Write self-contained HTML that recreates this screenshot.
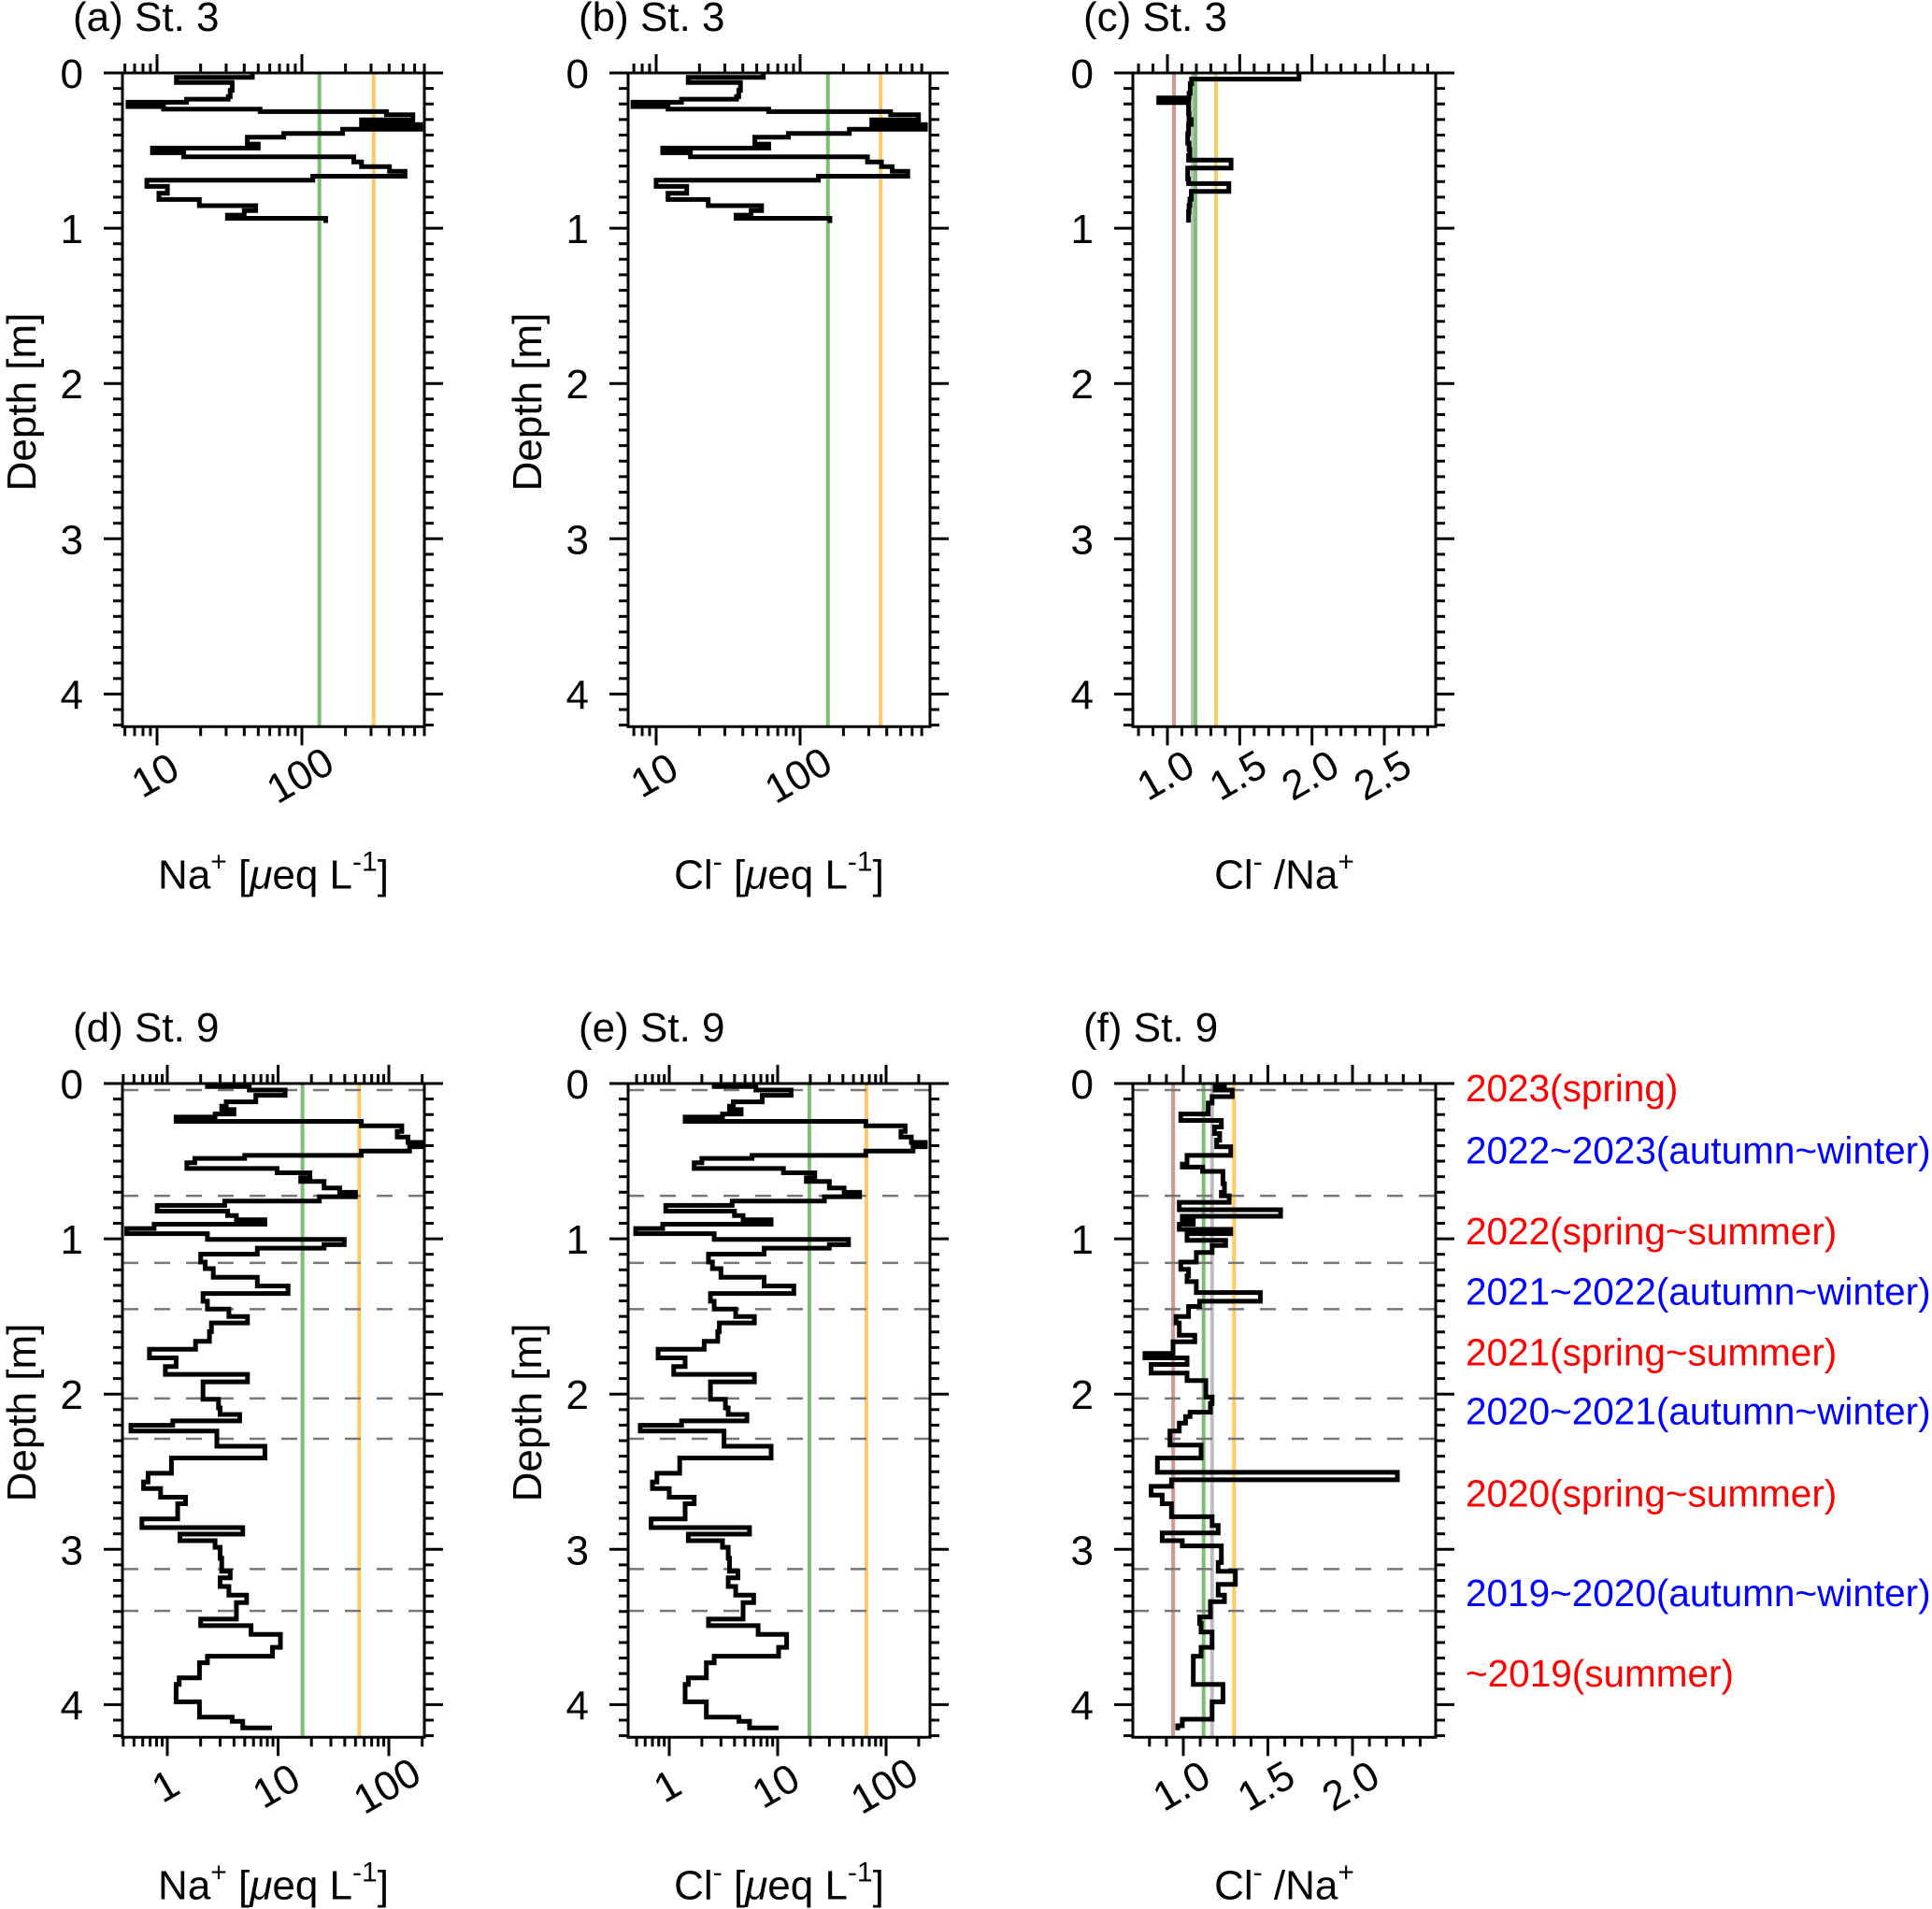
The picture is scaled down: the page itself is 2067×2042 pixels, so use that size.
<!DOCTYPE html>
<html><head><meta charset="utf-8"><style>
html,body{margin:0;padding:0;background:#fff;}
svg{display:block;font-family:"Liberation Sans",sans-serif;}
</style></head><body>
<svg id="fig" width="2067" height="2042" viewBox="0 0 2067 2042" xmlns="http://www.w3.org/2000/svg"></svg>
<script>
// ---- data ----
const depthA=[0,.028,.062,.112,.153,.169,.189,.217,.233,.249,.269,.303,.333,.363,.39,.414,.458,.484,.514,.54,.574,.604,.634,.665,.691,.731,.775,.815,.855,.886,.916,.936];
const depthAEnd=.966;
const naA=[45.5,13.6,33,32,31,16,6.3,11.1,51.5,383,583,258,659,191,75,42,50,9.3,15.3,228,258,402,515,119,8.5,11.8,10.3,19.6,48,40,30.6,146];
const clB=[55.6,16.7,38.5,37.5,36.2,15,6.9,12.1,60.6,425,665,315,743,220,83,48.5,60.6,11.1,17.3,294,368,437,560,134,10,16.3,12.1,23,54,45.7,35.9,161];
const depthC=[0,.04,.07,.131,.161,.191,.231,.261,.301,.331,.392,.452,.492,.532,.562,.612,.653,.683,.713,.763,.813,.853,.894,.934];
const depthCEnd=.964;
const ratioC=[1.91,1.167,1.158,1.149,0.94,1.146,1.146,1.149,1.165,1.146,1.14,1.149,1.155,1.146,1.44,1.14,1.14,1.146,1.425,1.165,1.155,1.149,1.146,1.146];
const depthD=[0,.02,.042,.076,.118,.146,.168,.196,.216,.244,.272,.308,.345,.379,.407,.435,.463,.482,.510,.547,.575,.606,.631,.673,.701,.729,.757,.785,.822,.850,.878,.906,.934,.967,1.004,1.038,1.06,1.099,1.15,1.192,1.248,1.304,1.352,1.402,1.453,1.5,1.542,1.598,1.66,1.711,1.767,1.823,1.873,1.921,2.033,2.089,2.131,2.173,2.201,2.238,2.336,2.412,2.51,2.566,2.608,2.664,2.706,2.804,2.86,2.902,2.944,2.987,3.057,3.141,3.183,3.239,3.295,3.343,3.449,3.491,3.547,3.631,3.688,3.73,3.828,3.87,3.982,4.08,4.108,4.15];
const depthDEnd=4.165;
const naD=[2.3,5.5,11.6,6.3,3.4,3.1,4.0,2.7,1.2,56.5,131,119,149,200,154,56.5,5.0,1.77,1.5,9.8,19.4,16,26,36,50,23.6,3.3,0.81,3.5,4.2,7.6,0.76,0.43,2.3,39.6,26,6.5,2.0,2.2,2.6,6.5,12.3,2.1,2.3,3.6,5.3,2.5,2.4,1.8,0.69,1.2,0.96,5.3,2.1,2.9,3.0,4.5,1.12,0.47,2.8,7.6,1.09,0.67,0.61,0.87,1.46,1.24,0.59,4.8,1.3,2.7,3.0,3.1,3.7,3.0,3.6,5.2,4.2,2.0,5.7,10.5,8.9,2.3,1.95,1.28,1.2,1.95,3.85,4.8,8.4];
const clE=[2.6,6.3,13.3,7.2,3.9,3.6,4.6,3.1,1.4,65,150,137,171,230,177,65,5.8,2.0,1.7,11.3,22,18.4,30,41,57,27,3.8,0.93,4.0,4.8,8.7,0.87,0.49,2.6,45,30,7.5,2.3,2.5,3.0,7.5,14.1,2.4,2.6,4.1,6.1,2.9,2.8,2.1,0.79,1.4,1.1,6.1,2.4,3.3,3.5,5.2,1.3,0.54,3.2,8.7,1.25,0.77,0.70,1.0,1.7,1.4,0.68,5.5,1.5,3.1,3.5,3.6,4.3,3.5,4.1,6.0,4.8,2.3,6.6,12.1,10.2,2.6,2.2,1.5,1.4,2.2,4.4,5.5,9.7];
const depthF=[0,.02,.042,.084,.126,.196,.238,.28,.322,.365,.407,.463,.519,.538,.566,.645,.701,.723,.765,.813,.855,.883,.906,.939,.967,1.01,1.043,1.088,1.15,1.197,1.239,1.276,1.346,1.402,1.436,1.5,1.542,1.621,1.663,1.739,1.767,1.809,1.865,1.913,2.019,2.061,2.117,2.145,2.187,2.238,2.328,2.412,2.504,2.552,2.594,2.65,2.706,2.79,2.846,2.894,2.944,2.978,3.085,3.141,3.225,3.295,3.337,3.435,3.477,3.533,3.631,3.688,3.87,3.982,4.094,4.136];
const depthFEnd=4.165;
const ratioF=[1.243,1.188,1.289,1.17,1.147,0.985,1.225,1.184,1.215,1.197,1.28,1.022,0.994,1.114,1.234,1.243,1.225,1.271,0.976,1.575,0.994,1.059,0.976,1.28,1.022,1.25,1.17,1.077,0.985,1.031,1.022,1.077,1.455,1.096,1.031,0.957,0.976,1.068,0.939,0.773,1.022,0.81,1.022,1.133,1.17,1.16,1.04,1.013,0.976,0.921,1.105,0.847,2.265,0.93,0.81,0.875,0.93,1.17,1.206,0.875,0.994,1.225,1.206,1.308,1.206,1.243,1.16,1.096,1.105,1.17,1.105,1.059,1.234,1.17,0.994,0.967];
const seasonBounds=[0.042,0.723,1.155,1.453,2.028,2.288,3.127,3.396];
const seasonLabels=["2023(spring)","2022~2023(autumn~winter)","2022(spring~summer)","2021~2022(autumn~winter)","2021(spring~summer)","2020~2021(autumn~winter)","2020(spring~summer)","2019~2020(autumn~winter)","~2019(summer)"];
const seasonLabelDepths=[0.03,0.43,0.95,1.34,1.73,2.11,2.64,3.28,3.8];
const seasonColors=["#ff0000","#0000ff","#ff0000","#0000ff","#ff0000","#0000ff","#ff0000","#0000ff","#ff0000"];
const refA=[132,313], refB=[156,363], refC=[1.045,1.175,1.194,1.336];
const refD=[16.6,54], refE=[19.6,65.8], refF=[0.94,1.12,1.17,1.30];
const logTickLabelsA=[10,100], logTickLabelsD=[1,10,100];
const linTickLabelsC=["1.0","1.5","2.0","2.5"], linTickLabelsF=["1.0","1.5","2.0"];

const NS="http://www.w3.org/2000/svg";
const svg=document.getElementById('fig');
function mk(tag,attrs,parent){const e=document.createElementNS(NS,tag);for(const k in attrs)e.setAttribute(k,attrs[k]);(parent||svg).appendChild(e);return e;}
const FS=44, DMAX=4.21, PXM=166.1;
const COL={green:"#7cbf72",orange:"#ffc966",red:"#d49696",gray:"#bdbdbd"};

function panel(p){
  const g=mk('g',{});
  
  
  const y=d=>p.top+d*PXM;
  const bottom=y(DMAX);
  let x;
  if(p.log){x=v=>p.ax+(Math.log10(v)-p.av)*p.k;}else{x=v=>p.ax+(v-p.av)*p.k;}
  p.refs.forEach((r,i)=>{const l=mk('line',{x1:x(r),x2:x(r),y1:p.top,y2:bottom,stroke:p.refCols[i],'stroke-width':4},g);
    
    });
  if(p.dashed){seasonBounds.forEach(d=>{const l=mk('line',{x1:p.x0,x2:p.x1,y1:y(d),y2:y(d),stroke:'#777','stroke-width':2.5,'stroke-dasharray':'17 17'},g);
    
    });}
  let dstr='';
  for(let i=0;i<p.depth.length;i++){
    const xv=x(p.vals[i]).toFixed(1), y0=y(p.depth[i]).toFixed(1), y1=y(i+1<p.depth.length?p.depth[i+1]:p.dend).toFixed(1);
    dstr+=(i===0?'M':'L')+xv+','+y0+'L'+xv+','+y1;
  }
  const path=mk('path',{d:dstr,fill:'none',stroke:'#000','stroke-width':5,'stroke-linejoin':'miter'},g);
  
  
  const box=mk('rect',{x:p.x0,y:p.top,width:p.x1-p.x0,height:bottom-p.top,fill:'none',stroke:'#000','stroke-width':3},g);
  
  
  for(let i=0;i<=42;i++){const d=i/10;const L=(i%10===0)?20:10;const yy=y(d);
    mk('line',{x1:p.x0-L,x2:p.x0,y1:yy,y2:yy,stroke:'#000','stroke-width':3},g);
    mk('line',{x1:p.x1,x2:p.x1+L,y1:yy,y2:yy,stroke:'#000','stroke-width':3},g);}
  for(let d=0;d<=4;d++){const t=mk('text',{x:p.x0-42,y:y(d)+16,'text-anchor':'end','font-size':FS},g);t.textContent=d;
    
    }
  const xt=[];
  if(p.log){const lo=p.av+(p.x0-p.ax)/p.k, hi=p.av+(p.x1-p.ax)/p.k;
    for(let e=Math.floor(lo);e<=Math.ceil(hi);e++)for(let m=1;m<=9;m++){const v=m*Math.pow(10,e);const lv=Math.log10(v);if(lv>=lo-1e-6&&lv<=hi+1e-6)xt.push([v,m===1]);}}
  else{const lo=p.av+(p.x0-p.ax)/p.k, hi=p.av+(p.x1-p.ax)/p.k;
    for(let i=Math.ceil(lo*10-1e-6);i<=Math.floor(hi*10+1e-6);i++)xt.push([i/10,i%5===0]);}
  xt.forEach(([v,maj])=>{const xx=x(v),L=maj?20:10;
    mk('line',{x1:xx,x2:xx,y1:p.top-L,y2:p.top,stroke:'#000','stroke-width':3},g);
    mk('line',{x1:xx,x2:xx,y1:bottom,y2:bottom+L,stroke:'#000','stroke-width':3},g);});
  p.labels.forEach(lb=>{const xx=x(parseFloat(lb))-2;const yy=bottom+52;
    const t=mk('text',{x:xx,y:yy+15,'text-anchor':'middle','font-size':FS,transform:`rotate(-30 ${xx} ${yy})`},g);t.textContent=lb;
    
    });
  const ti=mk('text',{x:p.x0-53,y:p.top-45,'font-size':FS},g);ti.textContent=p.title;
  
  
  if(p.depthLabel){const cy=p.top+352;const t=mk('text',{x:p.x0-93,y:cy,'text-anchor':'middle','font-size':FS,transform:`rotate(-90 ${p.x0-93} ${cy})`},g);t.textContent='Depth [m]';
    
    }
  const xt2=mk('text',{x:(p.x0+p.x1)/2,y:bottom+173,'text-anchor':'middle','font-size':FS},g);
  
  
  xt2.innerHTML=p.xtitle;
}
const naT='Na<tspan font-size="30" dy="-19">+</tspan><tspan dy="19"> [</tspan><tspan font-style="italic">μ</tspan>eq L<tspan font-size="30" dy="-19">-1</tspan><tspan dy="19">]</tspan>';
const clT='Cl<tspan font-size="30" dy="-19">-</tspan><tspan dy="19"> [</tspan><tspan font-style="italic">μ</tspan>eq L<tspan font-size="30" dy="-19">-1</tspan><tspan dy="19">]</tspan>';
const rT='Cl<tspan font-size="30" dy="-19">-</tspan><tspan dy="19"> /Na</tspan><tspan font-size="30" dy="-19">+</tspan>';
const T1=78,T2=1159;
panel({id:'a',title:'(a) St. 3',x0:131,x1:454,top:T1,log:true,ax:168,av:1,k:155,depth:depthA,dend:depthAEnd,vals:naA,refs:refA,refCols:[COL.green,COL.orange],refNames:['green','orange'],labels:logTickLabelsA.map(String),xtitle:naT,depthLabel:true});
panel({id:'b',title:'(b) St. 3',x0:672,x1:995,top:T1,log:true,ax:702,av:1,k:154,depth:depthA,dend:depthAEnd,vals:clB,refs:refB,refCols:[COL.green,COL.orange],refNames:['green','orange'],labels:logTickLabelsA.map(String),xtitle:clT,depthLabel:true});
panel({id:'c',title:'(c) St. 3',x0:1212,x1:1536,top:T1,log:false,ax:1249,av:1,k:154.7,depth:depthC,dend:depthCEnd,vals:ratioC,refs:refC,refCols:[COL.red,COL.gray,COL.green,COL.orange],refNames:['red','gray','green','orange'],labels:linTickLabelsC,xtitle:rT,depthLabel:false});
panel({id:'d',title:'(d) St. 9',x0:131,x1:454,top:T2,log:true,ax:179,av:0,k:118.5,depth:depthD,dend:depthDEnd,vals:naD,refs:refD,refCols:[COL.green,COL.orange],refNames:['green','orange'],labels:logTickLabelsD.map(String),xtitle:naT,depthLabel:true,dashed:true});
panel({id:'e',title:'(e) St. 9',x0:672,x1:995,top:T2,log:true,ax:716,av:0,k:116,depth:depthD,dend:depthDEnd,vals:clE,refs:refE,refCols:[COL.green,COL.orange],refNames:['green','orange'],labels:logTickLabelsD.map(String),xtitle:clT,depthLabel:true,dashed:true});
panel({id:'f',title:'(f) St. 9',x0:1212,x1:1536,top:T2,log:false,ax:1266,av:1,k:181,depth:depthF,dend:depthFEnd,vals:ratioF,refs:refF,refCols:[COL.red,COL.green,COL.gray,COL.orange],refNames:['red','green','gray','orange'],labels:linTickLabelsF,xtitle:rT,depthLabel:false,dashed:true});
seasonLabels.forEach((s,i)=>{const t=mk('text',{x:1568,y:T2+seasonLabelDepths[i]*PXM+14,'font-size':40.5,fill:seasonColors[i]});t.textContent=s;
  
  });
</script>
</body></html>
